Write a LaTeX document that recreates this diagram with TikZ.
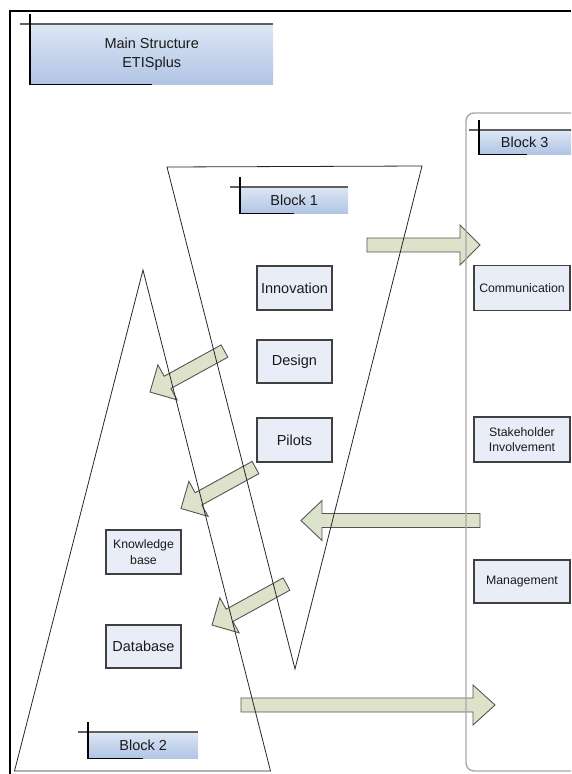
\documentclass[tikz,border=0pt]{standalone}
\usepackage{fontspec}
\setmainfont{Liberation Sans}
\definecolor{lblTop}{HTML}{DDE7F5}
\definecolor{lblBot}{HTML}{B0C4E4}
\definecolor{boxFill}{HTML}{E8EDF8}
\definecolor{boxLine}{HTML}{404040}
\definecolor{arrFill}{HTML}{DCE3CA}
\definecolor{arrLine}{HTML}{555555}
\definecolor{blkLine}{HTML}{A8A8A8}
\definecolor{lblGray}{HTML}{606060}
\definecolor{txt}{HTML}{1A1A1A}
\newcommand\bigfont{\fontsize{14.5}{19}\selectfont}
\newcommand\smallfont{\fontsize{12.3}{15.5}\selectfont}
\newcommand\blkarrow[5]{% tip x, tip y, angle, length, head length
  \begin{scope}[shift={(#1,#2)},rotate=#3]
    \draw[barrow] (0,0) -- (#5,-20) -- (#5,-7) -- (#4,-7) -- (#4,7) -- (#5,7) -- (#5,20) -- cycle;
  \end{scope}}
\newcommand\lbldeco[1]{%
  \draw[lblGray, line width=1.2pt] ([xshift=-10pt]#1.north west) -- (#1.north east);
  \draw[black, line width=1.2pt] ([yshift=10pt]#1.north west) -- (#1.south west) -- (#1.south);}
\begin{document}
\begin{tikzpicture}[x=1pt,y=-1pt,
  barrow/.style={draw=arrLine, fill=arrFill, line width=0.9pt, line join=miter},
  blockline/.style={draw=black!85, line width=0.8pt},
  lbl/.style={top color=lblTop, bottom color=lblBot, draw=none, inner sep=0pt,
              font=\bigfont, text=txt, anchor=north west, align=center},
  bx/.style={draw=boxLine, fill=boxFill, line width=1.1pt, inner sep=0pt,
             align=center, text=txt, minimum width=75pt},
  bigbx/.style={bx, font=\bigfont},
  smallbx/.style={bx, font=\smallfont}]
\path[use as bounding box] (0,0) rectangle (571,774);
\clip (0,0) rectangle (571,774);

% block arrows
\blkarrow{480}{245}{180}{113}{20}
\blkarrow{301}{520.5}{0}{179}{21}
\blkarrow{495}{705}{180}{254}{22}
\blkarrow{150}{392}{28.8}{85}{20}
\blkarrow{181}{508.5}{28.8}{85}{20}
\blkarrow{212}{625}{28.8}{85}{20}

% block 3 frame
\draw[blkLine, line width=1.4pt, rounded corners=8pt] (466,113) rectangle (600,771);

% outer frame
\draw[black, line width=2pt] (10,774) -- (10,11) -- (571,11);

% block 1 and block 2 outlines
\draw[blockline] (167,167) -- (422,166) -- (295,669) -- cycle;
\draw[blockline] (143,270) -- (270.5,771) -- (14.5,771) -- cycle;

% labels
\node[lbl, minimum width=243pt, minimum height=60pt] (title) at (30,24) {Main Structure\\ETISplus};
\lbldeco{title}
\node[lbl, minimum width=108pt, minimum height=26pt] (lab1) at (240,187) {Block 1};
\lbldeco{lab1}
\node[lbl, minimum width=95pt, minimum height=24pt] (lab3) at (479,130) {\hspace*{-1pt}Block 3\hspace*{3pt}};
\lbldeco{lab3}
\node[lbl, minimum width=110pt, minimum height=26pt] (lab2) at (88,732) {Block 2};
\lbldeco{lab2}

% boxes
\node[bigbx, minimum height=44pt] (innov) at (294.5,288) {Innovation};
\node[bigbx, minimum height=43pt] (design) at (294.5,361.5) {Design};
\node[bigbx, minimum height=44pt] (pilots) at (294.5,440) {Pilots};
\node[smallbx, minimum height=44pt] (kbase) at (143.5,552) {Knowledge\\base};
\node[bigbx, minimum height=43pt] (dbase) at (143.5,646.5) {Database};
\node[smallbx, minimum width=96pt, minimum height=45pt] (comm) at (522,288) {Communication};
\node[smallbx, minimum width=96pt, minimum height=45pt] (stake) at (522,439.5) {Stakeholder\\Involvement};
\node[smallbx, minimum width=96pt, minimum height=43pt] (mgmt) at (522,581.5) {Management};
\end{tikzpicture}
\end{document}
